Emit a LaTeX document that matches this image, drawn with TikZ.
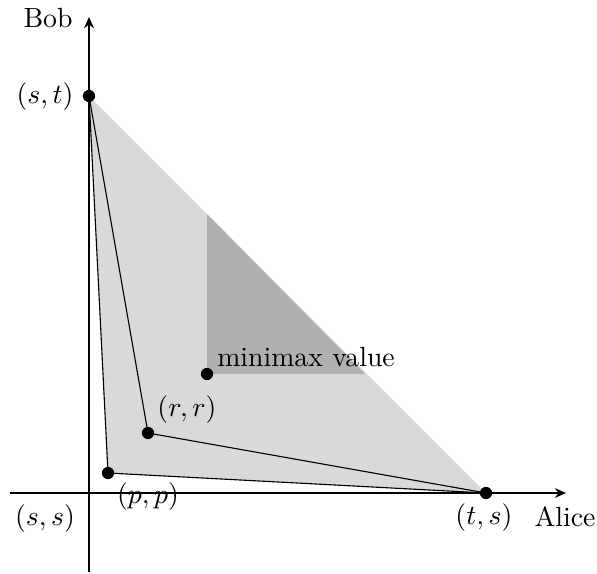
\documentclass[tikz,border=0pt]{standalone}
\usetikzlibrary{arrows.meta}
\begin{document}
\begin{tikzpicture}[x=0.36pt,y=-0.36pt,
  axis/.style={line width=0.75pt,-{Stealth[length=4pt,width=3.5pt]}},
  edge/.style={line width=0.4pt},
  pt/.style={circle,fill=black,inner sep=0pt,minimum size=4.4pt},
  lbl/.style={inner sep=1pt}]
\useasboundingbox (0,0) rectangle (597,574);
\coordinate (O) at (89,493);
\coordinate (xs) at (10,493);
\coordinate (xe) at (566,493);
\coordinate (ys) at (89,572);
\coordinate (ye) at (89,17);
\coordinate (st) at (89,96);
\coordinate (ts) at (486,493);
\coordinate (pp) at (108,473);
\coordinate (rr) at (148,433);
\coordinate (mm) at (207,374);
\coordinate (d1) at (207,214);
\coordinate (d2) at (365,374);
\fill[black!15] (st) -- (pp) -- (ts) -- cycle;
\fill[black!31] (d1) -- (mm) -- (d2) -- cycle;
\draw[edge] (st) -- (pp) -- (ts);
\draw[edge] (st) -- (rr) -- (ts);
\draw[axis] (xs) -- (xe);
\draw[axis] (ys) -- (ye);
\node[pt] (nst) at (st) {};
\node[pt] (nts) at (ts) {};
\node[pt] (npp) at (pp) {};
\node[pt] (nrr) at (rr) {};
\node[pt] (nmm) at (mm) {};
\node[lbl] (lbob) at (48,18) {Bob};
\node[lbl] (lalice) at (565,517) {Alice};
\node[lbl] (lst) at (45,97) {$(s,t)$};
\node[lbl] (lss) at (45,519) {$(s,s)$};
\node[lbl] (lpp) at (148,497) {$(p,p)$};
\node[lbl] (lts) at (484,518) {$(t,s)$};
\node[lbl] (lrr) at (187,410) {$(r,r)$};
\node[lbl,anchor=base west] (lmm) at (214,366) {minimax value};
\end{tikzpicture}
\end{document}
